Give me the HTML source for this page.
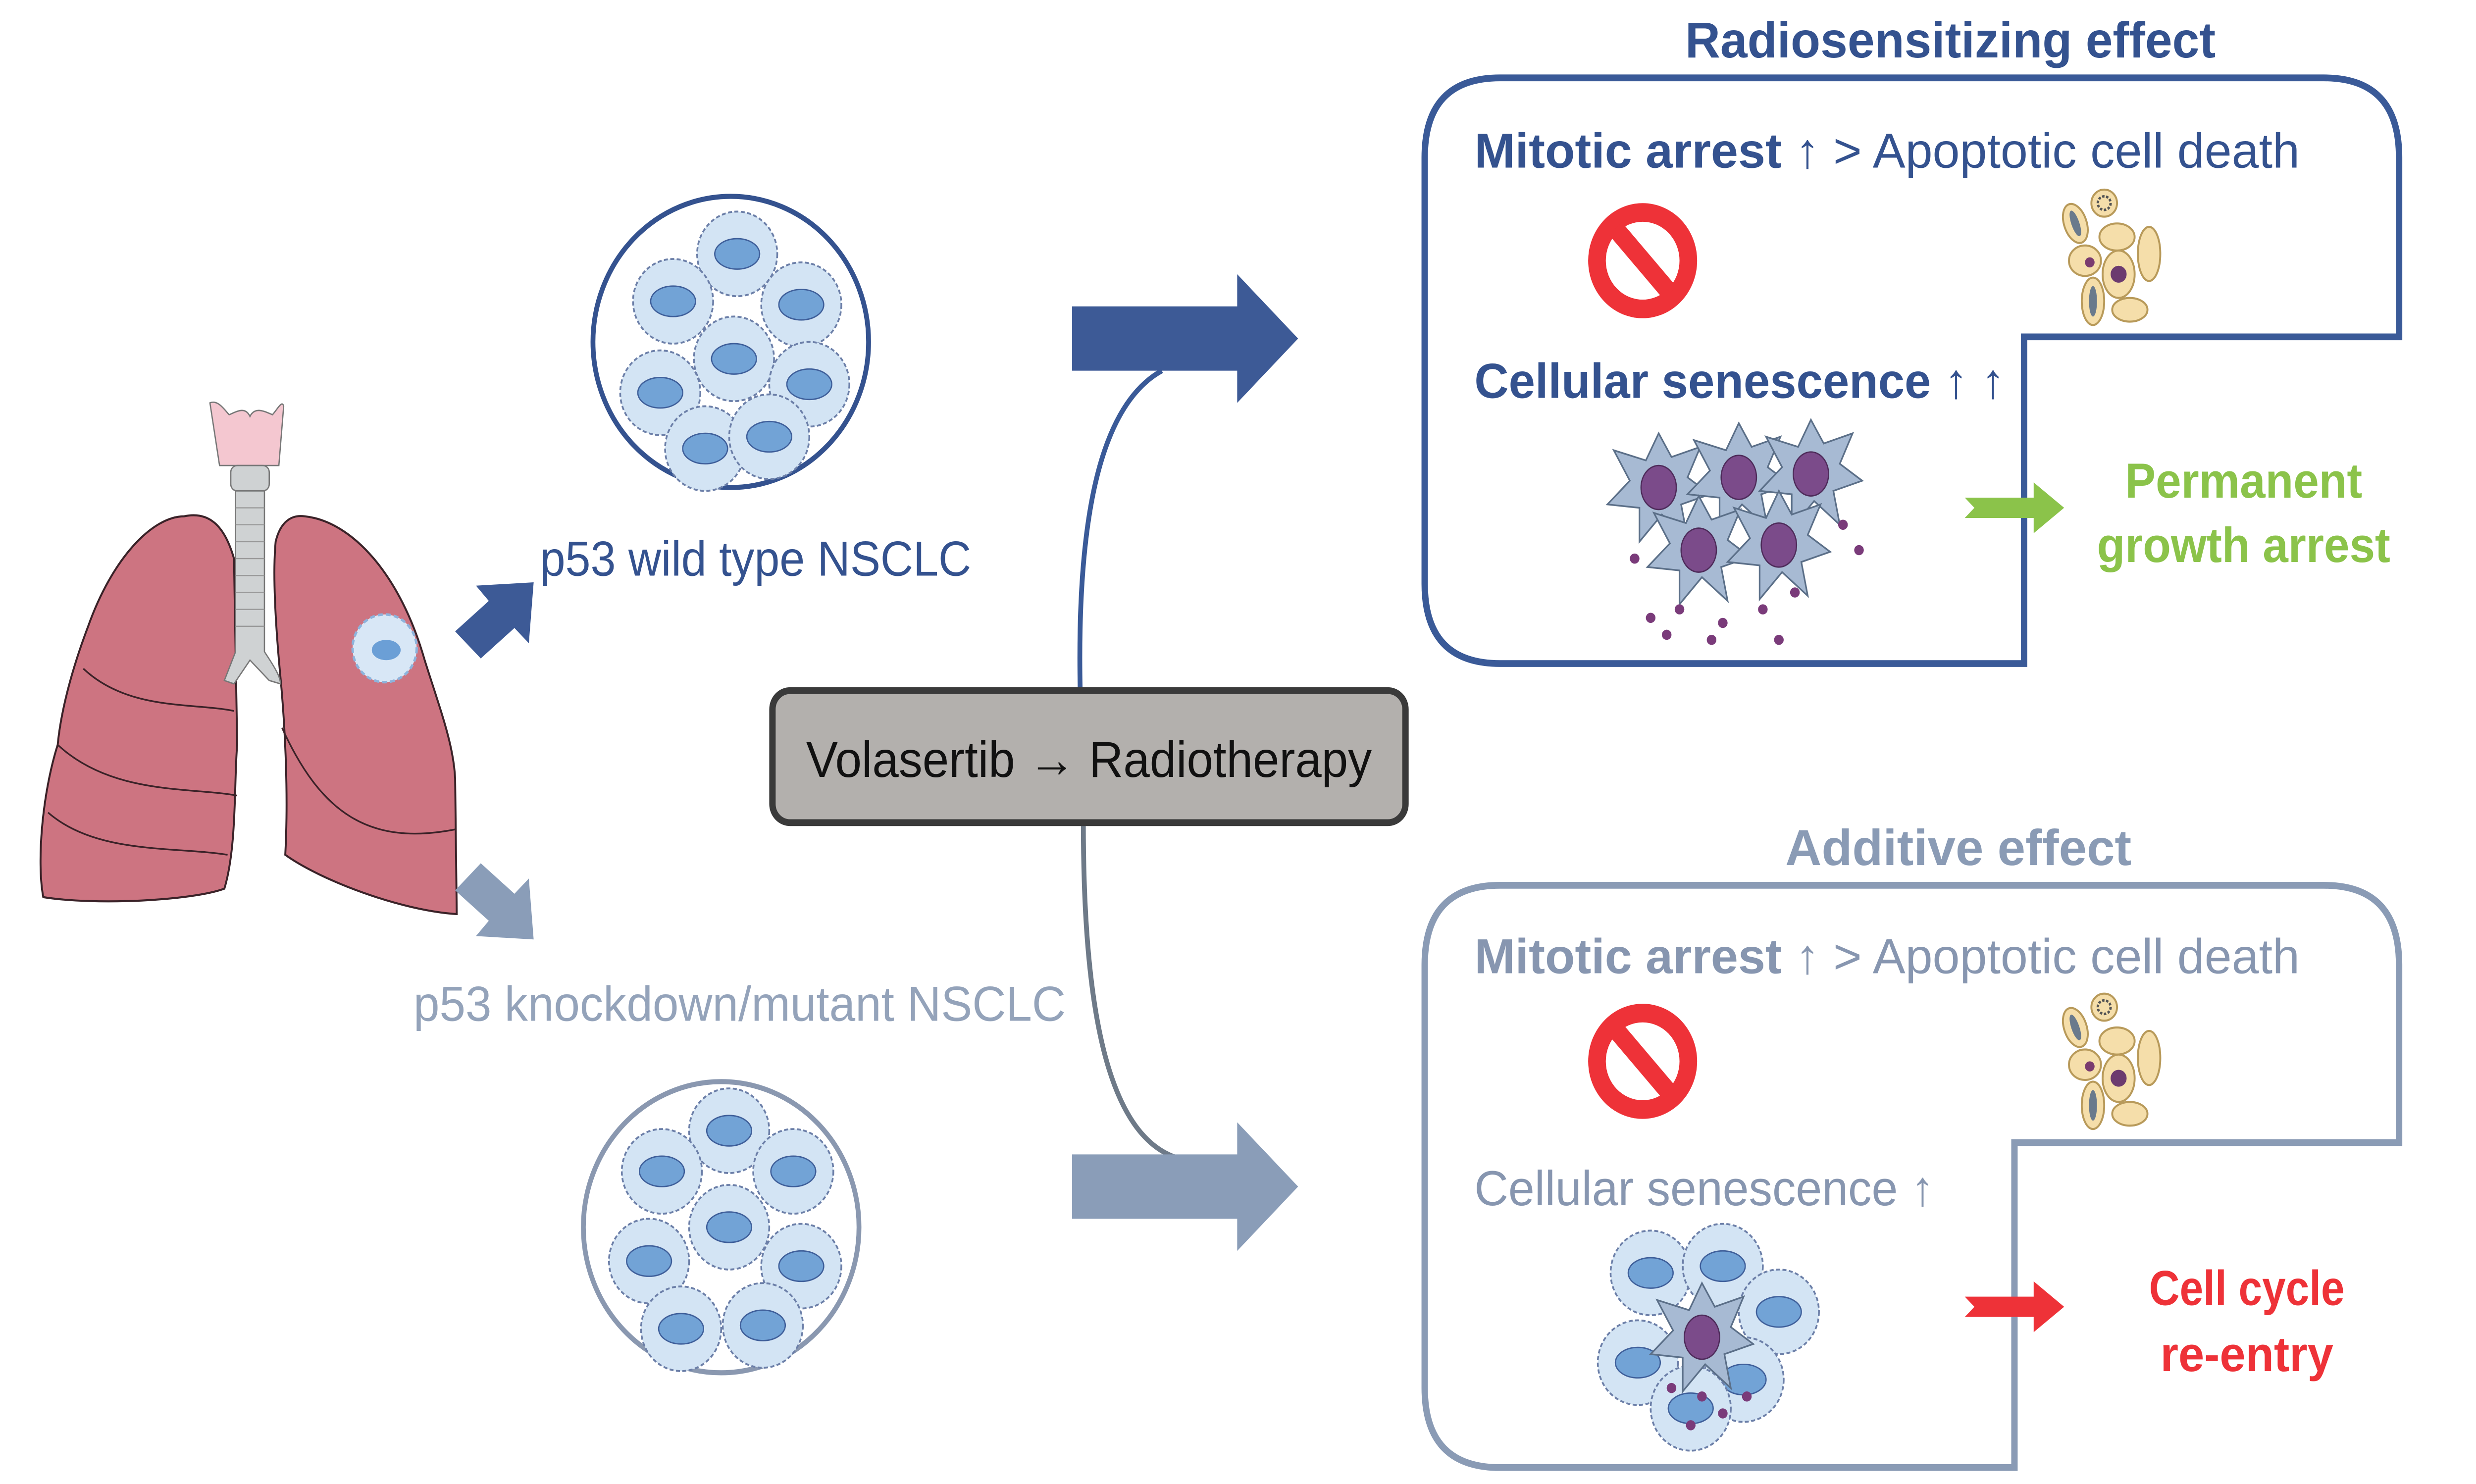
<!DOCTYPE html>
<html><head><meta charset="utf-8"><style>
html,body{margin:0;padding:0;background:#fff;overflow:hidden;width:100%;height:100%;}
svg{display:block;position:absolute;left:0;top:0;width:100vw;height:100vh;}
text{font-family:"Liberation Sans","DejaVu Sans",sans-serif;}
</style></head><body>
<svg viewBox="0 0 1545 876.7" preserveAspectRatio="none" xmlns="http://www.w3.org/2000/svg">
<defs>
<g id="cell">
<circle r="25" fill="#d3e4f4" stroke="#6c7fa8" stroke-width="1.1" stroke-dasharray="2.5 1.5"/>
<ellipse rx="14" ry="9" fill="#72a3d6" stroke="#3f5f9a" stroke-width="0.8"/>
</g>
<g id="scell">
<path d="M0,-32 L8,-18 L26,-24 L18,-6 L32,4 L14,10 L18,30 L2,16 L-12,32 L-12,12 L-32,10 L-18,-4 L-28,-22 L-8,-16 Z" fill="#a7bad3" stroke="#5b6f88" stroke-width="1"/>
<ellipse rx="11" ry="13" fill="#7b4b8a" stroke="#4e2b5a" stroke-width="0.8"/>
</g>
<g id="apo">
<ellipse cx="-24" cy="-18" rx="7" ry="12" fill="#f5deaa" stroke="#b89a5a" stroke-width="1.2" transform="rotate(-20 -24 -18)"/>
<ellipse cx="-24" cy="-18" rx="2.5" ry="8" fill="#6a7a8c" transform="rotate(-20 -24 -18)"/>
<circle cx="-6" cy="-30" r="8" fill="#f5deaa" stroke="#b89a5a" stroke-width="1.2"/>
<circle cx="-6" cy="-30" r="4" fill="none" stroke="#555" stroke-width="1.5" stroke-dasharray="1.5 1"/>
<ellipse cx="2" cy="-10" rx="11" ry="8" fill="#f5deaa" stroke="#b89a5a" stroke-width="1.2"/>
<ellipse cx="22" cy="0" rx="7" ry="16" fill="#f5deaa" stroke="#b89a5a" stroke-width="1.2"/>
<ellipse cx="-18" cy="4" rx="10" ry="9" fill="#f5deaa" stroke="#b89a5a" stroke-width="1.2"/>
<circle cx="-15" cy="5" r="3" fill="#7a3b6f"/>
<ellipse cx="3" cy="12" rx="10" ry="14" fill="#f5deaa" stroke="#b89a5a" stroke-width="1.2"/>
<circle cx="3" cy="12" r="5" fill="#6c3b6f"/>
<ellipse cx="-13" cy="28" rx="7" ry="14" fill="#f5deaa" stroke="#b89a5a" stroke-width="1.2"/>
<ellipse cx="-13" cy="28" rx="2.5" ry="9" fill="#6a7a8c"/>
<ellipse cx="10" cy="33" rx="11" ry="7" fill="#f5deaa" stroke="#b89a5a" stroke-width="1.2"/>
</g>
<g id="stop">
<circle r="34" fill="#ee3238"/>
<circle r="23" fill="#fff"/>
<path d="M-17,-19 L17,19" stroke="#ee3238" stroke-width="11"/>
</g>
</defs>

<!-- Lungs -->
<path d="M115,305 C95,305 70,330 55,370 C45,395 38,420 36,440 C26,470 23,510 27,530 C60,535 120,532 140,525 C148,500 146,460 148,440 L146,330 C140,310 130,302 115,305 Z" fill="#cd7481" stroke="#3a2228" stroke-width="1.2"/>
<path d="M36,440 C70,470 120,465 148,470" fill="none" stroke="#3a2228" stroke-width="1"/>
<path d="M52,395 C80,420 120,415 146,420" fill="none" stroke="#3a2228" stroke-width="1"/>
<path d="M30,480 C60,505 110,500 142,505" fill="none" stroke="#3a2228" stroke-width="1"/>
<path d="M190,305 C220,308 250,340 265,390 C275,420 283,440 284,460 L285,540 C250,538 200,520 178,505 C180,470 178,430 175,400 C172,370 170,340 172,320 C175,308 182,304 190,305 Z" fill="#cd7481" stroke="#3a2228" stroke-width="1.2"/>
<path d="M176,430 C200,480 230,500 284,490" fill="none" stroke="#3a2228" stroke-width="1"/>
<path d="M131,238 C136,236 140,242 143,245 C148,243 153,240 156,246 C159,240 165,243 170,245 C173,242 176,236 177,240 L174,275 L137,275 Z" fill="#f4c7d0" stroke="#777" stroke-width="0.8"/>
<rect x="144" y="275" width="24" height="15" rx="4" fill="#cfd2d3" stroke="#777" stroke-width="0.8"/>
<path d="M147,290 H165 V385 C172,395 175,400 175,404 L168,402 L156,390 L146,404 L140,402 L147,385 Z" fill="#cfd2d3" stroke="#777" stroke-width="0.8"/>
<path d="M147,300 H165 M147,310 H165 M147,320 H165 M147,330 H165 M147,340 H165 M147,350 H165 M147,360 H165 M147,370 H165" stroke="#999" stroke-width="0.7"/>
<circle cx="240" cy="383" r="20" fill="#d8e7f6" stroke="#8db3dc" stroke-width="1.5" stroke-dasharray="3 2"/>
<ellipse cx="241" cy="384" rx="9" ry="6" fill="#6b9fd6"/>

<!-- small diagonal arrows -->
<path d="M284,373 L305,355 L297,346 L333,344 L330,380 L321,371 L300,389 Z" fill="#3d5a96"/>
<path d="M284,526 L305,544 L297,553 L333,555 L330,519 L321,528 L300,510 Z" fill="#8a9db8"/>

<text x="337" y="340" font-size="29" fill="#34528f" textLength="269" lengthAdjust="spacingAndGlyphs">p53 wild type NSCLC</text>
<text x="258" y="603" font-size="29" fill="#94a3ba" textLength="407" lengthAdjust="spacingAndGlyphs">p53 knockdown/mutant NSCLC</text>

<!-- circles -->
<circle cx="456" cy="202" r="86" fill="#fff" stroke="#34528f" stroke-width="3"/>
<use href="#cell" x="460" y="150"/><use href="#cell" x="420" y="178"/><use href="#cell" x="500" y="180"/>
<use href="#cell" x="458" y="212"/><use href="#cell" x="412" y="232"/><use href="#cell" x="505" y="227"/>
<use href="#cell" x="440" y="265"/><use href="#cell" x="480" y="258"/>
<circle cx="450" cy="725" r="86" fill="#fff" stroke="#8a98b0" stroke-width="3"/>
<use href="#cell" x="455" y="668"/><use href="#cell" x="413" y="692"/><use href="#cell" x="495" y="692"/>
<use href="#cell" x="455" y="725"/><use href="#cell" x="405" y="745"/><use href="#cell" x="500" y="748"/>
<use href="#cell" x="425" y="785"/><use href="#cell" x="476" y="783"/>

<!-- curves -->
<path d="M674,407 C672,310 685,240 725,219" fill="none" stroke="#3a5a98" stroke-width="3"/>
<path d="M676,486 C676,600 692,682 745,686" fill="none" stroke="#6e7a88" stroke-width="3"/>

<!-- big arrows -->
<path d="M669,181 H772 V162 L810,200 L772,238 V219 H669 Z" fill="#3d5a96"/>
<path d="M669,682 H772 V663 L810,701 L772,739 V720 H669 Z" fill="#8a9db8"/>

<!-- center box -->
<rect x="482" y="408" width="395" height="78" rx="11" fill="#b3b0ad" stroke="#3a3a3a" stroke-width="4"/>
<text x="503" y="459" font-size="30" fill="#111" textLength="353" lengthAdjust="spacingAndGlyphs">Volasertib → Radiotherapy</text>

<!-- Top box -->
<text x="1217" y="34" font-size="30" font-weight="bold" fill="#34528f" text-anchor="middle" textLength="331" lengthAdjust="spacingAndGlyphs">Radiosensitizing effect</text>
<path d="M936,46 H1450 Q1497,46 1497,93 V199 H1263 V392 H936 Q889,392 889,345 V93 Q889,46 936,46 Z" fill="none" stroke="#3a5a98" stroke-width="4"/>
<text x="920" y="99" font-size="29" fill="#34528f" textLength="515" lengthAdjust="spacingAndGlyphs"><tspan font-weight="bold">Mitotic arrest ↑</tspan> &gt; Apoptotic cell death</text>
<use href="#stop" x="1025" y="154"/>
<use href="#apo" x="1319" y="150"/>
<text x="920" y="235" font-size="29" font-weight="bold" fill="#34528f" textLength="331" lengthAdjust="spacingAndGlyphs">Cellular senescence ↑ ↑</text>
<use href="#scell" x="1035" y="288"/><use href="#scell" x="1085" y="282"/><use href="#scell" x="1130" y="280"/>
<use href="#scell" x="1060" y="325"/><use href="#scell" x="1110" y="322"/>
<g fill="#7a3b7a"><circle cx="1020" cy="330" r="3"/><circle cx="1030" cy="365" r="3"/><circle cx="1048" cy="360" r="3"/><circle cx="1075" cy="368" r="3"/><circle cx="1100" cy="360" r="3"/><circle cx="1120" cy="350" r="3"/><circle cx="1150" cy="310" r="3"/><circle cx="1160" cy="325" r="3"/><circle cx="1040" cy="375" r="3"/><circle cx="1068" cy="378" r="3"/><circle cx="1110" cy="378" r="3"/></g>
<path d="M1226,294 H1269 V285 L1288,300 L1269,315 V306 H1226 L1232,300 Z" fill="#8bc34a"/>
<text x="1400" y="294" font-size="29" font-weight="bold" fill="#8bc34a" text-anchor="middle" textLength="148" lengthAdjust="spacingAndGlyphs">Permanent</text>
<text x="1400" y="332" font-size="29" font-weight="bold" fill="#8bc34a" text-anchor="middle" textLength="183" lengthAdjust="spacingAndGlyphs">growth arrest</text>

<!-- Bottom box -->
<text x="1222" y="511" font-size="30" font-weight="bold" fill="#8a9bb5" text-anchor="middle" textLength="216" lengthAdjust="spacingAndGlyphs">Additive effect</text>
<path d="M936,523 H1450 Q1497,523 1497,570 V675 H1257 V867 H936 Q889,867 889,820 V570 Q889,523 936,523 Z" fill="none" stroke="#8a9bb5" stroke-width="4"/>
<text x="920" y="575" font-size="29" fill="#8796b0" textLength="515" lengthAdjust="spacingAndGlyphs"><tspan font-weight="bold">Mitotic arrest ↑</tspan> &gt; Apoptotic cell death</text>
<use href="#stop" x="1025" y="627"/>
<use href="#apo" x="1319" y="625"/>
<text x="920" y="712" font-size="29" fill="#8796b0" textLength="287" lengthAdjust="spacingAndGlyphs">Cellular senescence ↑</text>
<use href="#cell" x="1030" y="752"/><use href="#cell" x="1075" y="748"/><use href="#cell" x="1110" y="775"/>
<use href="#cell" x="1022" y="805"/><use href="#cell" x="1088" y="815"/><use href="#cell" x="1055" y="832"/>
<use href="#scell" x="1062" y="790"/>
<g fill="#7a3b7a"><circle cx="1043" cy="820" r="3"/><circle cx="1055" cy="842" r="3"/><circle cx="1075" cy="835" r="3"/><circle cx="1090" cy="825" r="3"/><circle cx="1062" cy="825" r="3"/></g>
<path d="M1226,766 H1269 V757 L1288,772 L1269,787 V778 H1226 L1232,772 Z" fill="#ee3238"/>
<text x="1402" y="771" font-size="29" font-weight="bold" fill="#ee3238" text-anchor="middle" textLength="122" lengthAdjust="spacingAndGlyphs">Cell cycle</text>
<text x="1402" y="810" font-size="29" font-weight="bold" fill="#ee3238" text-anchor="middle" textLength="108" lengthAdjust="spacingAndGlyphs">re-entry</text>
</svg>
</body></html>
